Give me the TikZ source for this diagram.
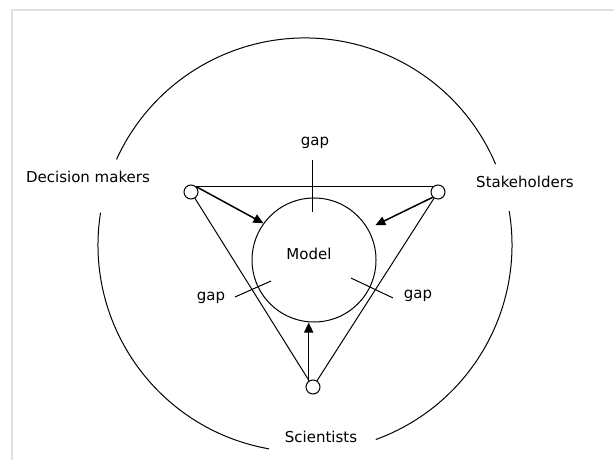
\documentclass[tikz,border=0pt]{standalone}
\usepackage{fontspec}
\setmainfont{DejaVu Sans}
\usepackage{tikz}
\usetikzlibrary{arrows.meta}
\tikzset{party/.style={draw,circle,minimum size=7pt,inner sep=0pt},
         ring/.style={draw,circle,minimum size=62pt,inner sep=0pt},
         tag/.style={font=\fontsize{7.5}{9}\selectfont,inner sep=0pt},
         arr/.style={-{Triangle[length=5pt,width=4.5pt]},line width=0.75pt}
}

\begin{document}
\begin{tikzpicture}[x=0.5pt,y=0.5pt,line width=0.5pt]
                \useasboundingbox (0,0) rectangle (614,460);
                \draw[color=black!12,line width=1pt] (12,0) -- (12,450) -- (614,450);
                
                % outer circle, open at the labels
                \coordinate (o) at (305,215);
                \draw ([shift={(23:207)}]o) arc[start angle=23,end angle=155.6,radius=207];
                \draw ([shift={(171:207)}]o) arc[start angle=171,end angle=260,radius=207];
                \draw ([shift={(-70:207)}]o) arc[start angle=-70,end angle=9.4,radius=207];
                
                \node[party] (dm) at (191,268) {};
                \node[party] (sh) at (438,268) {};
                \node[party] (sci) at (313,73) {};
                \node[ring] (model) at (314,200) {};
                
                \node[tag] (modeltxt) at (309,206) {Model};
                \node[tag] (dmtxt) at (88,283) {Decision makers};
                \node[tag] (shtxt) at (525,278) {Stakeholders};
                \node[tag] (scitxt) at (321,23) {Scientists};
                \node[tag] (gaptop) at (315,317) {gap};
                \node[tag] (gapleft) at (211,162) {gap};
                \node[tag] (gapright) at (418,164) {gap};
                
                \draw (dm.50) -- (sh.130);
                \draw (dm) -- (sci);
                \draw (sh) -- (sci);
                
                \draw[arr] (dm.45) -- (model.144);
                \draw[arr,shorten >=4pt] (sh.-135) -- (model.30);
                \draw[arr] (sci.125) -- (sci.125 |- model.south);
                
                % gaps
                \draw (312.5,300) -- (312.5,248);
                \draw (235,163) -- (271,179);
                \draw (351,182) -- (393,162);
\end{tikzpicture}
\end{document}
